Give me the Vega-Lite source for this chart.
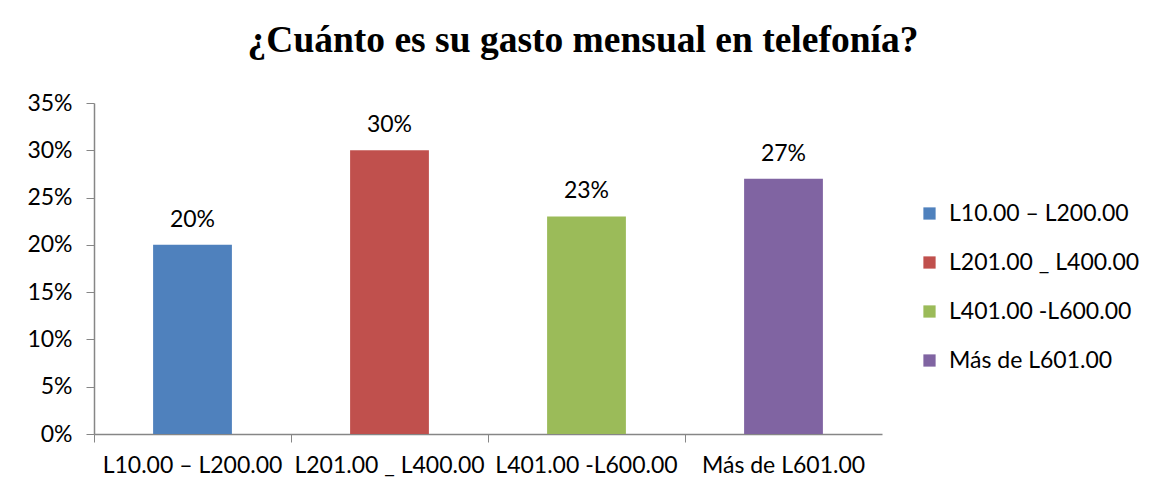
{
  "$schema": "https://vega.github.io/schema/vega-lite/v6.json",
  "autosize": {"type": "none"},
  "width": 788,
  "height": 331,
  "padding": {"left": 94, "top": 103, "right": 280, "bottom": 63},
  "background": "white",
  "title": {
    "text": "¿Cuánto es su gasto mensual en telefonía?",
    "font": "Liberation Serif",
    "fontSize": 37.5,
    "fontWeight": "bold",
    "color": "black",
    "anchor": "middle",
    "frame": "group",
    "dx": 95,
    "offset": 33
  },
  "data": {
    "values": [
      {"rango": "L10.00 – L200.00", "pct": 0.20},
      {"rango": "L201.00 _ L400.00", "pct": 0.30},
      {"rango": "L401.00 -L600.00", "pct": 0.23},
      {"rango": "Más de L601.00", "pct": 0.27}
    ]
  },
  "config": {
    "view": {"stroke": null},
    "font": "Lato",
    "axis": {"labelFont": "Lato", "labelFontSize": 23, "labelColor": "black", "domainColor": "#868686", "tickColor": "#868686", "grid": false, "title": null}
  },
  "encoding": {
    "x": {
      "field": "rango", "type": "nominal", "sort": null,
      "scale": {"paddingInner": 0, "paddingOuter": 0},
      "axis": {"labelAngle": 0, "bandPosition": 0, "tickSize": 8, "labelPadding": 12, "labelLimit": 200, "domainWidth": 1.5}
    },
    "y": {
      "field": "pct", "type": "quantitative",
      "scale": {"domain": [0, 0.35]},
      "axis": {"format": "%", "values": [0, 0.05, 0.1, 0.15, 0.2, 0.25, 0.3, 0.35], "tickSize": 8, "labelPadding": 14, "domainWidth": 1.5}
    }
  },
  "layer": [
    {
      "mark": {"type": "bar", "width": {"band": 0.4}},
      "encoding": {
        "color": {
          "field": "rango", "type": "nominal", "sort": null,
          "scale": {"range": ["#4F81BD", "#C0504D", "#9BBB59", "#8064A2"]},
          "legend": {
            "title": null, "orient": "none", "legendX": 824, "legendY": 99,
            "symbolType": "square", "symbolSize": 150, "symbolStrokeWidth": 0,
            "labelFont": "Lato", "labelFontSize": 23, "labelColor": "black", "labelLimit": 300,
            "rowPadding": 25, "labelOffset": 8
          }
        }
      }
    },
    {
      "mark": {"type": "text", "baseline": "bottom", "dy": -13, "fontSize": 23, "font": "Lato", "color": "black"},
      "encoding": {
        "text": {"field": "pct", "type": "quantitative", "format": ".0%"}
      }
    }
  ]
}
